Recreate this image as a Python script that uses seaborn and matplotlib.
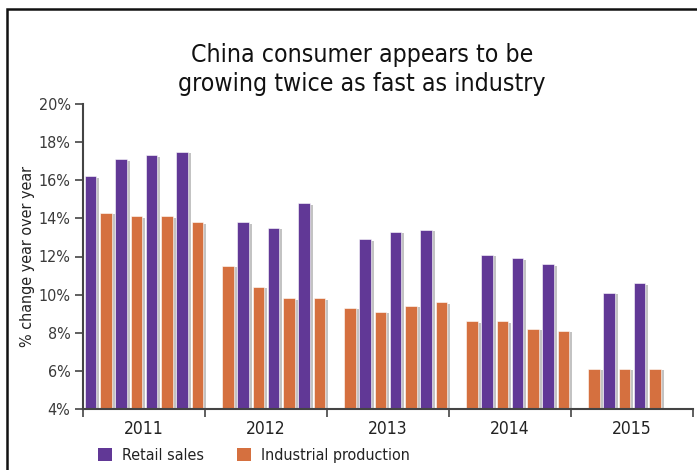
import numpy as np
import pandas as pd
import matplotlib
matplotlib.use("Agg")
import matplotlib.pyplot as plt
import matplotlib.patheffects as pe
from matplotlib import font_manager as fm
from matplotlib.patches import Rectangle
import seaborn as sns

years = ["2011", "2012", "2013", "2014", "2015"]
quarters = ["Q1", "Q2", "Q3", "Q4"]
retail_sales = [16.2, 17.1, 17.3, 17.5,
                np.nan, 13.8, 13.5, 14.8,
                np.nan, 12.9, 13.3, 13.4,
                np.nan, 12.1, 11.9, 11.6,
                np.nan, 10.1, 10.6, np.nan]
industrial_production = [14.3, 14.1, 14.1, 13.8,
                         11.5, 10.4, 9.8, 9.8,
                         9.3, 9.1, 9.4, 9.6,
                         8.6, 8.6, 8.2, 8.1,
                         6.1, 6.1, 6.1, np.nan]
series_names = ["Retail sales", "Industrial production"]
colors = ["#613896", "#D5703F"]
yticks = [4, 6, 8, 10, 12, 14, 16, 18, 20]

sns.set_style("white")

# pick a condensed font if available
cand = [f for f in fm.fontManager.ttflist
        if ("narrow" in f.name.lower() or "condensed" in f.name.lower()
            or "narrow" in f.fname.lower() or "condensed" in f.fname.lower())
        and f.style == "normal"]
cand_reg = [f for f in cand if f.weight in (400, "normal", "regular")] or cand
if cand_reg:
    fname = cand_reg[0].fname
    def FP(size):
        return fm.FontProperties(fname=fname, size=size)
else:
    def FP(size):
        return fm.FontProperties(family="Roboto", size=size * 0.9)

plt.rcParams["font.family"] = ["Roboto", "DejaVu Sans"]

periods = [f"{y}{q}" for y in years for q in quarters]
df = pd.DataFrame({
    "period": periods * 2,
    "series": [series_names[0]] * len(periods) + [series_names[1]] * len(periods),
    "value": retail_sales + industrial_production,
})

fig = plt.figure(figsize=(6.97, 4.70), dpi=100)
ax = fig.add_axes([83 / 697, 1 - 409 / 470, 610 / 697, 305 / 470])

sns.barplot(data=df, x="period", y="value", hue="series", order=periods,
            hue_order=series_names, palette=colors, width=1.0, gap=0.25,
            saturation=1, legend=False, ax=ax, err_kws={"linewidth": 0})

for p in ax.patches:
    p.set_edgecolor("white")
    p.set_linewidth(0.4)
    p.set_path_effects([pe.SimplePatchShadow(offset=(2.2, -1), shadow_rgbFace="#7a7a7a", alpha=0.45),
                        pe.Normal()])

ax.set_ylim(4, 20)
ax.set_xlim(-0.5, len(periods) - 0.5)
bounds = [-0.5 + 4 * i for i in range(len(years) + 1)]
ax.tick_params(axis="x", which="minor", bottom=True, length=0, pad=8)
ax.tick_params(axis="x", which="major", bottom=True, length=6, width=1.2, color="#444444", direction="out")
ax.tick_params(axis="y", left=True, length=6, width=1.2, color="#444444", direction="out", pad=3)
ax.set_yticks(yticks)
ax.set_yticklabels([f"{t}%" for t in yticks], color="#3a3a3a")
ax.set_xticks(bounds)
ax.set_xticklabels([])
ax.set_xticks([1.5 + 4 * i for i in range(len(years))], minor=True)
ax.set_xticklabels(years, minor=True, color="#222222")
for lab in ax.get_yticklabels():
    lab.set_fontproperties(FP(11.5))
for lab in ax.get_xticklabels(minor=True):
    lab.set_fontproperties(FP(12.5))
ax.set_xlabel("")
ax.set_ylabel("% change year over year", fontproperties=FP(11.5), color="#222222")
ax.yaxis.label.set_va("center")
ax.yaxis.set_label_coords((27 - 83) / 610, 0.5)
for s in ["top", "right"]:
    ax.spines[s].set_visible(False)
for s in ["left", "bottom"]:
    ax.spines[s].set_color("#444444")
    ax.spines[s].set_linewidth(1.5)

fig.text(362 / 697, 1 - 62 / 470, "China consumer appears to be", ha="center", va="baseline",
         fontproperties=FP(17.8), color="#111111")
fig.text(362 / 697, 1 - 91 / 470, "growing twice as fast as industry", ha="center", va="baseline",
         fontproperties=FP(17.8), color="#111111")

# legend
for x0, name, c, tx in [(98, series_names[0], colors[0], 122), (237, series_names[1], colors[1], 261)]:
    fig.patches.append(Rectangle((x0 / 697, 1 - 461 / 470), 14 / 697, 13 / 470,
                                 transform=fig.transFigure, facecolor=c, edgecolor="none"))
    fig.text(tx / 697, 1 - 460 / 470, name, ha="left", va="baseline", fontproperties=FP(11.5),
             color="#222222")

# frame
fig.patches.append(Rectangle((7 / 697, -0.05), 1.2, 1 - 9 / 470 + 0.05, transform=fig.transFigure,
                             facecolor="none", edgecolor="#111111", linewidth=1.8))

fig.savefig("out.png", dpi=100)
